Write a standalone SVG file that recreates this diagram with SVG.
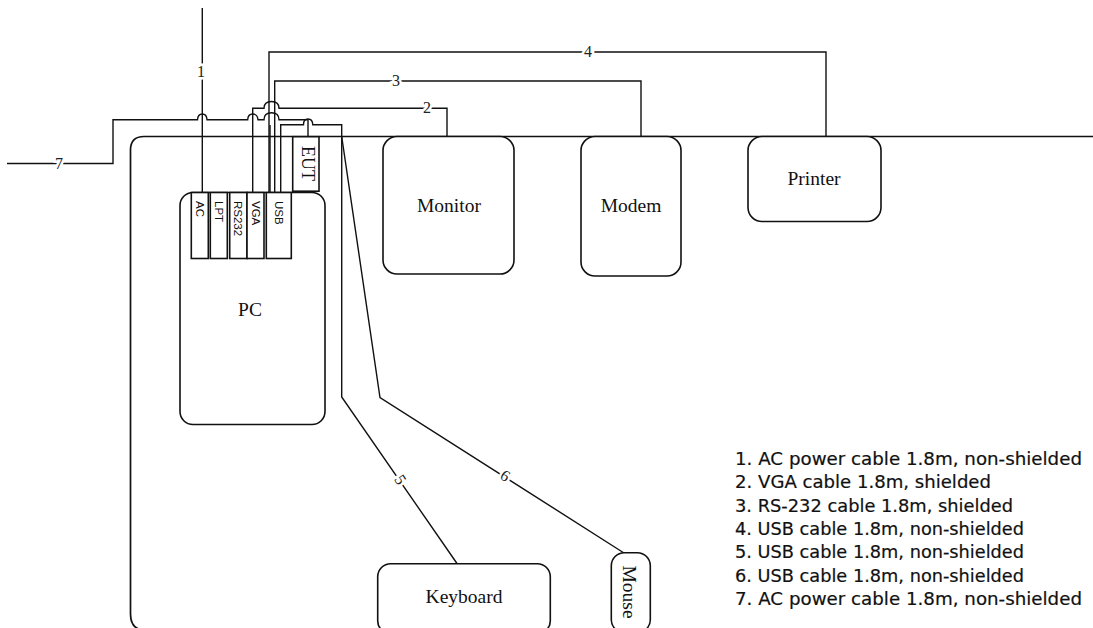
<svg xmlns="http://www.w3.org/2000/svg" width="1093" height="628" viewBox="0 0 1093 628">
<style>
.n{fill:#fff;stroke:#111;stroke-width:1.6}
.t{fill:none;stroke:#111;stroke-width:1.7}
.w{fill:none;stroke:#111;stroke-width:1.4}
.s{font-family:"Liberation Serif",serif;font-size:19.500px;fill:#111;text-anchor:middle}
.p{font-family:"Liberation Sans",sans-serif;font-size:11.500px;fill:#111}
.l{font-family:"Liberation Serif",serif;font-size:16px;fill:#222;text-anchor:middle;paint-order:stroke;stroke:#fff;stroke-width:5px}
.g{font-family:"DejaVu Sans",sans-serif;font-size:17.500px;fill:#111;stroke:#111;stroke-width:.2}
</style>
<g id="table"><path class="t" d="M1093 136.5H144Q130.500 136.500 130.500 150V614Q130.500 628 142 630"/></g>
<g id="connectors">
<path class="w" d="M202.300 8V192"/>
<path class="w" d="M7 163.500H113V119.700H197.500Q198 114 202.300 114T207 119.700H247.700Q248 114 252.700 114T258 119.700H264Q264 112.700 271.500 112.700T279 119.700H308V136.700"/>
<path class="w" d="M252.700 192V108.300H264Q264 101.500 271.500 101.500T279 108.300H447V136.500"/>
<path class="w" d="M274.700 192V81H641V136.500"/>
<path class="w" d="M269 192V52H826V136.500"/>
<path class="w" d="M270 192V125"/>
<path class="w" d="M280.700 192V124.700H303.500Q303.500 119 308 119T312.800 124.700H341.700V397L457 563.500"/>
<path class="w" d="M341.700 136.500L380 397.500L624 553"/>
</g>
<g id="pc"><rect class="n" x="180" y="192.500" width="145" height="232" rx="13"/><text class="s" x="250" y="316">PC</text></g>
<g id="port-ac"><rect class="n" x="191.300" y="192.500" width="17" height="66"/><text class="p" transform="translate(196 201) rotate(90)">AC</text></g>
<g id="port-lpt"><rect class="n" x="210.300" y="192.500" width="17" height="66"/><text class="p" transform="translate(215 201) rotate(90)">LPT</text></g>
<g id="port-rs232"><rect class="n" x="229.700" y="192.500" width="17.300" height="66"/><text class="p" transform="translate(233.500 201) rotate(90)">RS232</text></g>
<g id="port-vga"><rect class="n" x="247" y="192.500" width="17" height="66"/><text class="p" transform="translate(251.700 201) rotate(90)">VGA</text></g>
<g id="port-usb"><rect class="n" x="266.300" y="192.500" width="25" height="66"/><text class="p" transform="translate(275 201) rotate(90)">USB</text></g>
<g id="eut"><rect class="n" x="292.700" y="136.700" width="26.300" height="54.500"/><text class="s" style="font-size:18px" transform="translate(301.500 163.500) rotate(90)">EUT</text></g>
<g id="monitor"><rect class="n" x="383" y="136.500" width="131" height="137.500" rx="14"/><text class="s" x="449" y="212">Monitor</text></g>
<g id="modem"><rect class="n" x="581" y="136.500" width="100" height="139.500" rx="14"/><text class="s" x="631" y="212">Modem</text></g>
<g id="printer"><rect class="n" x="748" y="136.500" width="133" height="85" rx="14"/><text class="s" x="814" y="185">Printer</text></g>
<g id="keyboard"><rect class="n" x="377.700" y="563.700" width="172.600" height="70" rx="13"/><text class="s" x="464" y="603">Keyboard</text></g>
<g id="mouse"><rect class="n" x="611.300" y="552.700" width="39" height="80" rx="13"/><text class="s" transform="translate(623 592) rotate(90)">Mouse</text></g>
<g id="labels">
<text class="l" x="201" y="77">1</text>
<text class="l" x="427" y="113">2</text>
<text class="l" x="396" y="86">3</text>
<text class="l" x="588" y="57">4</text>
<text class="l" transform="translate(400 480) rotate(57)" y="5">5</text>
<text class="l" transform="translate(505 476) rotate(33)" y="5">6</text>
<text class="l" x="59" y="169">7</text>
</g>
<g id="legend">
<text class="g" x="735" y="465" textLength="347" lengthAdjust="spacingAndGlyphs">1. AC power cable 1.8m, non-shielded</text>
<text class="g" x="735" y="488" textLength="256" lengthAdjust="spacingAndGlyphs">2. VGA cable 1.8m, shielded</text>
<text class="g" x="735" y="512" textLength="278" lengthAdjust="spacingAndGlyphs">3. RS-232 cable 1.8m, shielded</text>
<text class="g" x="735" y="535" textLength="289" lengthAdjust="spacingAndGlyphs">4. USB cable 1.8m, non-shielded</text>
<text class="g" x="735" y="558" textLength="289" lengthAdjust="spacingAndGlyphs">5. USB cable 1.8m, non-shielded</text>
<text class="g" x="735" y="582" textLength="289" lengthAdjust="spacingAndGlyphs">6. USB cable 1.8m, non-shielded</text>
<text class="g" x="735" y="605" textLength="347" lengthAdjust="spacingAndGlyphs">7. AC power cable 1.8m, non-shielded</text>
</g>
</svg>
